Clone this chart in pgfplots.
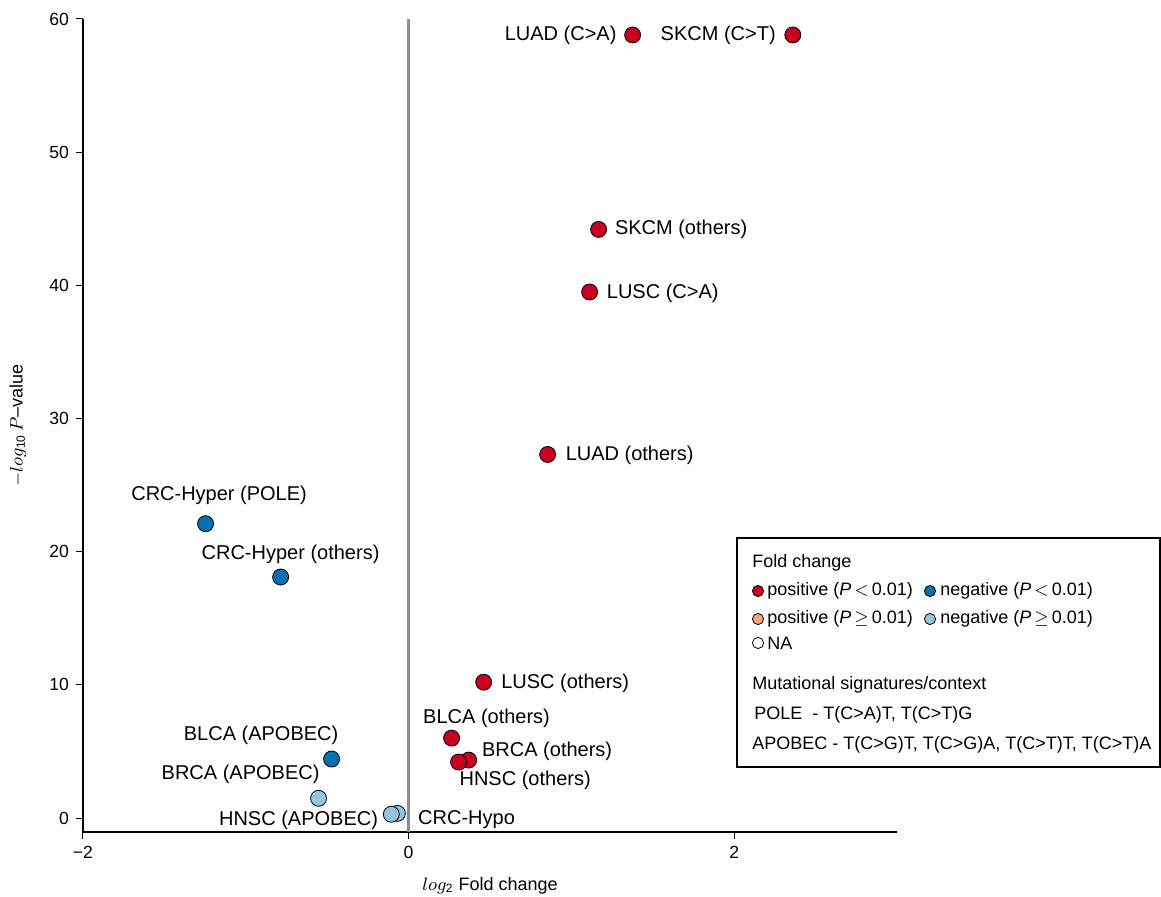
\documentclass[border=0pt]{standalone}
\usepackage{fontspec}
\setmainfont{Liberation Sans}
\usepackage{amsmath}
\usepackage{pgfplots}
\pgfplotsset{compat=1.18}
\definecolor{posS}{HTML}{CA0020}
\definecolor{negS}{HTML}{0571B0}
\definecolor{posN}{HTML}{F4A582}
\definecolor{negN}{HTML}{92C5DE}
\begin{document}
\begin{tikzpicture}[x=1pt,y=1pt]
\useasboundingbox (-41.5,-32.5) rectangle (539,416);
\begin{axis}[
  at={(0,0)}, anchor=south west, scale only axis,
  width=407pt, height=406.5pt,
  xmin=-2, xmax=3, ymin=-1.05, ymax=60,
  axis x line*=bottom, axis y line*=left,
  xtick={-2,0,2}, xticklabels={−2,0,2},
  ytick={0,10,20,30,40,50,60},
  tick align=outside, major tick length=3.5pt,
  tick style={line width=0.5pt, black},
  tick label style={font=\fontsize{8.8}{10}\selectfont},
  /pgf/number format/assume math mode=true,
  axis line style={line width=0.7pt},
  xlabel={$log_{\text{2}}$ Fold change},
  ylabel={$-log_{\text{10}}\,P$–value},
  every axis x label/.style={at={(axis description cs:0.5,-0.0664)}, anchor=center, font=\fontsize{9}{11}\selectfont},
  every axis y label/.style={at={(axis description cs:-0.0799,0.5)}, anchor=center, rotate=90, font=\fontsize{9}{11}\selectfont},
  clip=false,
  every node/.append style={font=\fontsize{10.5}{12}\selectfont},
]
\draw[gray!90, line width=1.2pt] (axis cs:0,-1.05) -- (axis cs:0,60);
% red: positive, P<0.01
\addplot[only marks, mark=*, mark size=4pt, mark options={fill=posS, draw=black, line width=0.4pt}] coordinates {
 (1.376,58.8) (2.36,58.8) (1.167,44.2) (1.112,39.5) (0.854,27.3)
 (0.461,10.2) (0.264,6.0) (0.369,4.35) (0.307,4.2)
};
% dark blue: negative, P<0.01
\addplot[only marks, mark=*, mark size=4pt, mark options={fill=negS, draw=black, line width=0.4pt}] coordinates {
 (-1.247,22.1) (-0.786,18.1) (-0.473,4.43)
};
% light blue: negative, P>=0.01
\addplot[only marks, mark=*, mark size=4pt, mark options={fill=negN, draw=black, line width=0.4pt}] coordinates {
 (-0.553,1.48) (-0.069,0.35) (-0.106,0.28)
};
\node at (axis cs:0.934,58.8) {LUAD (C>A)};
\node at (axis cs:1.902,58.8) {SKCM (C>T)};
\node at (axis cs:1.674,44.2) {SKCM (others)};
\node at (axis cs:1.561,39.4) {LUSC (C>A)};
\node at (axis cs:1.358,27.25) {LUAD (others)};
\node at (axis cs:-1.164,24.25) {CRC-Hyper (POLE)};
\node at (axis cs:-0.725,19.82) {CRC-Hyper (others)};
\node at (axis cs:0.962,10.14) {LUSC (others)};
\node at (axis cs:0.479,7.51) {BLCA (others)};
\node at (axis cs:0.851,5.03) {BRCA (others)};
\node at (axis cs:0.716,2.85) {HNSC (others)};
\node at (axis cs:-0.906,6.23) {BLCA (APOBEC)};
\node at (axis cs:-1.032,3.30) {BRCA (APOBEC)};
\node at (axis cs:-0.676,-0.15) {HNSC (APOBEC)};
\node at (axis cs:0.356,-0.15) {CRC-Hypo};
\end{axis}
% legend
\draw[line width=0.6pt] (327,147) rectangle (538.5,32.5);
\begin{scope}[every node/.style={anchor=west, inner sep=0pt, font=\fontsize{9}{11}\selectfont}]
\node at (334.5,134.5) {Fold change};
\draw[fill=posS, line width=0.4pt] (337.5,120.5) circle (2.8);
\node at (342,120.5) {positive (\textit{P}\,$<$\,0.01)};
\draw[fill=negS, line width=0.4pt] (423.5,120.5) circle (2.8);
\node at (428.5,120.5) {negative (\textit{P}\,$<$\,0.01)};
\draw[fill=posN, line width=0.4pt] (337.5,106.5) circle (2.8);
\node at (342,106.5) {positive (\textit{P}\,$\geq$\,0.01)};
\draw[fill=negN, line width=0.4pt] (423.5,106.5) circle (2.8);
\node at (428.5,106.5) {negative (\textit{P}\,$\geq$\,0.01)};
\draw[fill=white, line width=0.4pt] (337.5,94.5) circle (2.8);
\node at (342,94.5) {NA};
\node at (334.5,73.5) {Mutational signatures/context};
\node at (335.5,58.5) {POLE\ \ - T(C>A)T, T(C>T)G};
\node at (334.5,43.5) {APOBEC - T(C>G)T, T(C>G)A, T(C>T)T, T(C>T)A};
\end{scope}
\end{tikzpicture}
\end{document}
